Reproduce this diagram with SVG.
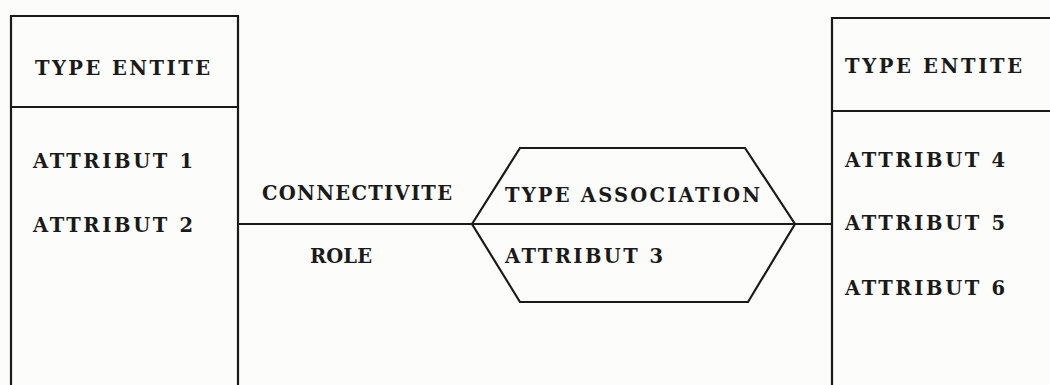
<svg xmlns="http://www.w3.org/2000/svg" width="1050" height="385" viewBox="0 0 1050 385">
<style>
.ln{fill:none;stroke:#1a1a1a;stroke-width:2.2;stroke-linejoin:miter}
.t{font-family:"DejaVu Serif","Liberation Serif",serif;font-size:19.5px;font-weight:bold;fill:#1a1a1a}
</style>
<rect width="1050" height="385" fill="#fcfcfa"/>
<g id="connectors">
<line class="ln" x1="238" y1="224" x2="472" y2="224"/>
<line class="ln" x1="795" y1="224" x2="832" y2="224"/>
<text class="t" x="262" y="200" textLength="190" lengthAdjust="spacing">CONNECTIVITE</text>
<text class="t" x="310" y="263" textLength="62" lengthAdjust="spacing">ROLE</text>
</g>
<g id="entity-left">
<path class="ln" d="M11,390 V16 H238 V390"/>
<line class="ln" x1="11" y1="107" x2="238" y2="107"/>
<text class="t" x="35" y="75" textLength="175" lengthAdjust="spacing">TYPE ENTITE</text>
<text class="t" x="33" y="168" textLength="160" lengthAdjust="spacing">ATTRIBUT 1</text>
<text class="t" x="33" y="232" textLength="160" lengthAdjust="spacing">ATTRIBUT 2</text>
</g>
<g id="association">
<polygon class="ln" points="472,224 520,148 745,148 795,224 748,302 520,302"/>
<line class="ln" x1="472" y1="224" x2="795" y2="224"/>
<text class="t" x="505" y="202" textLength="255" lengthAdjust="spacing">TYPE ASSOCIATION</text>
<text class="t" x="505" y="263" textLength="158" lengthAdjust="spacing">ATTRIBUT 3</text>
</g>
<g id="entity-right">
<path class="ln" d="M832,390 V18 H1060"/>
<line class="ln" x1="832" y1="111" x2="1060" y2="111"/>
<text class="t" x="845" y="73" textLength="177" lengthAdjust="spacing">TYPE ENTITE</text>
<text class="t" x="845" y="167" textLength="160" lengthAdjust="spacing">ATTRIBUT 4</text>
<text class="t" x="845" y="230" textLength="160" lengthAdjust="spacing">ATTRIBUT 5</text>
<text class="t" x="845" y="295" textLength="160" lengthAdjust="spacing">ATTRIBUT 6</text>
</g>
</svg>
